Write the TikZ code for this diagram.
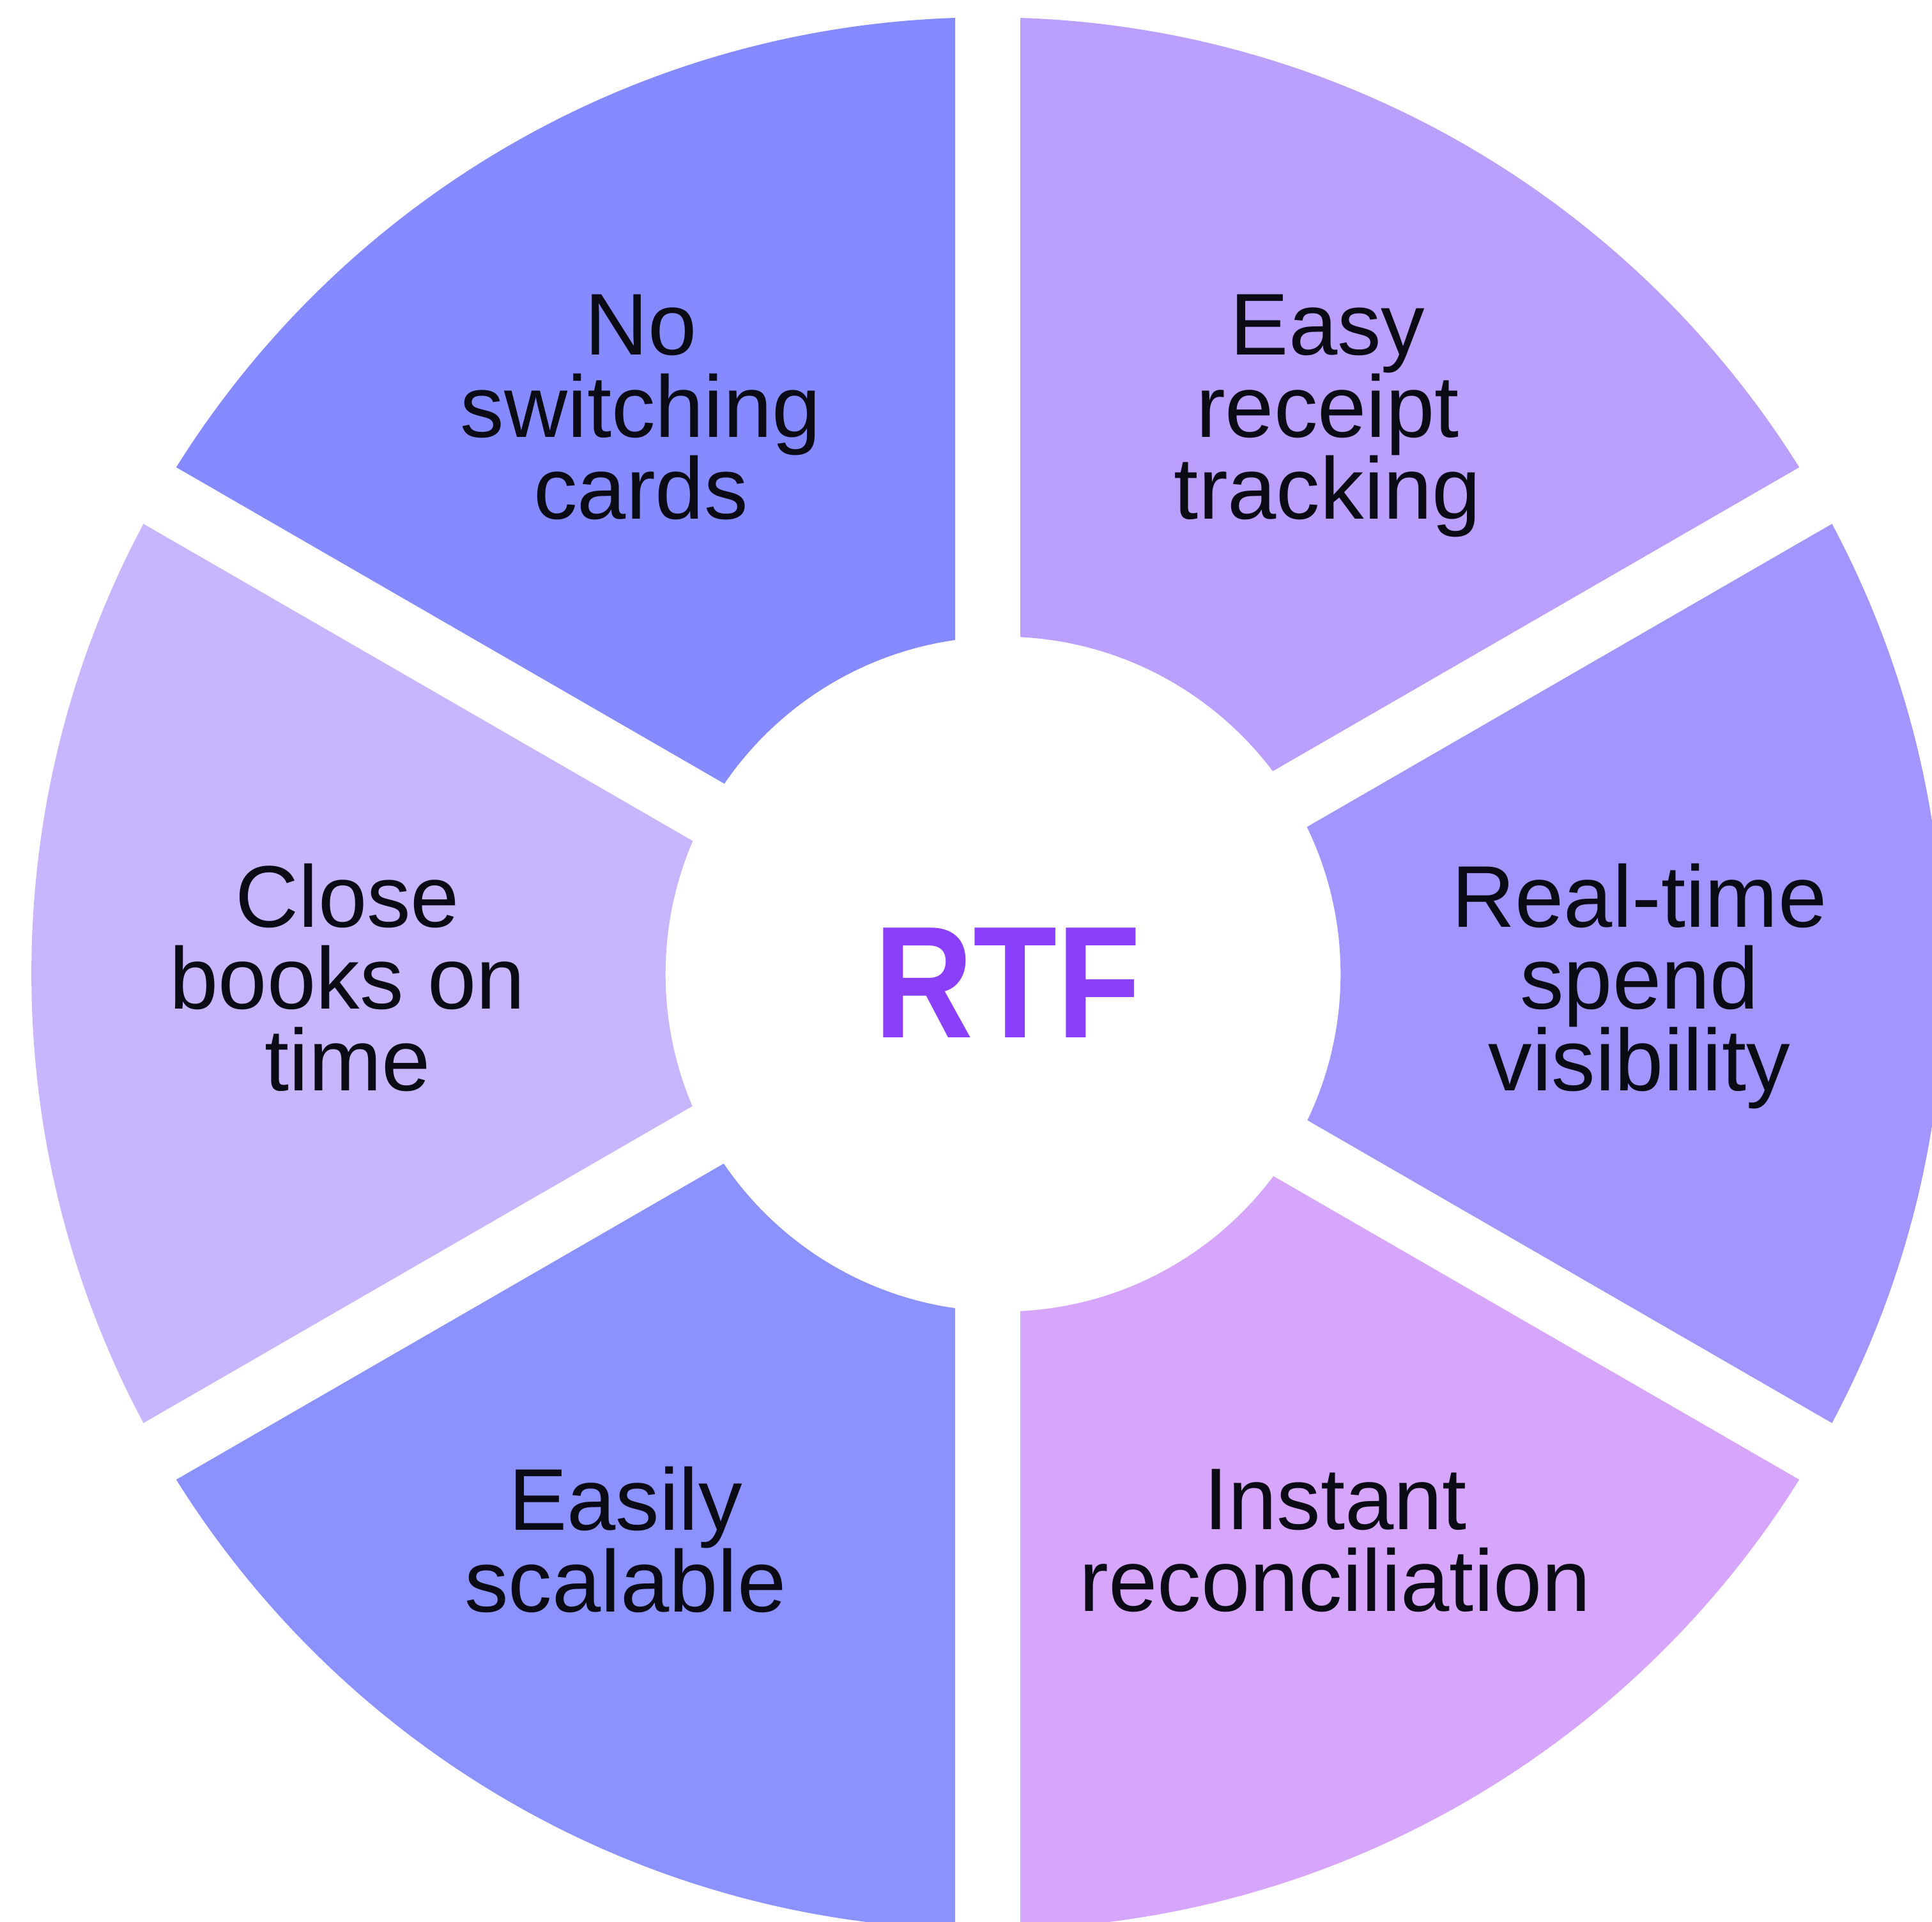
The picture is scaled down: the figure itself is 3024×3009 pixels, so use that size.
\documentclass[tikz,border=0pt]{standalone}
\usepackage{fontspec}
\setmainfont{Liberation Sans}
\usepackage{graphicx}

\definecolor{wedgeNW}{HTML}{858AFF}
\definecolor{wedgeNE}{HTML}{BA9FFD}
\definecolor{wedgeE}{HTML}{A096FD}
\definecolor{wedgeSE}{HTML}{D6A6FC}
\definecolor{wedgeSW}{HTML}{8B92FD}
\definecolor{wedgeW}{HTML}{C7B6FE}
\definecolor{rtfpurple}{HTML}{8A3FFA}
\definecolor{ink}{HTML}{0B0B16}

\begin{document}
\begin{tikzpicture}[x=0.01cm,y=-0.01cm]
\tikzstyle{every node}+=[inner sep=0pt]
\tikzstyle{gap}=[white, line width=1.02cm]
\tikzstyle{label}=[text=ink, align=center, anchor=base, font=\fontsize{39}{36.4}\selectfont]
\useasboundingbox (0,0) rectangle (3024,3009);
\fill [white] (0,0) rectangle (3024,3009);
\clip (0,0) rectangle (3024,3009);
% six ring wedges
\begin{scope}
\clip (1546,1524) -- +(-90:4000) -- +(-30:4000) -- cycle;
\fill [wedgeNE, even odd rule] (1546,1524) circle (14.96cm) (1570,1525) circle (5.28cm);
\end{scope}
\begin{scope}
\clip (1546,1524) -- +(-30:4000) -- +(30:4000) -- cycle;
\fill [wedgeE, even odd rule] (1546,1524) circle (14.96cm) (1570,1525) circle (5.28cm);
\end{scope}
\begin{scope}
\clip (1546,1524) -- +(30:4000) -- +(90:4000) -- cycle;
\fill [wedgeSE, even odd rule] (1546,1524) circle (14.96cm) (1570,1525) circle (5.28cm);
\end{scope}
\begin{scope}
\clip (1546,1524) -- +(90:4000) -- +(150:4000) -- cycle;
\fill [wedgeSW, even odd rule] (1546,1524) circle (14.96cm) (1570,1525) circle (5.28cm);
\end{scope}
\begin{scope}
\clip (1546,1524) -- +(150:4000) -- +(210:4000) -- cycle;
\fill [wedgeW, even odd rule] (1546,1524) circle (14.96cm) (1570,1525) circle (5.28cm);
\end{scope}
\begin{scope}
\clip (1546,1524) -- +(210:4000) -- +(270:4000) -- cycle;
\fill [wedgeNW, even odd rule] (1546,1524) circle (14.96cm) (1570,1525) circle (5.28cm);
\end{scope}
% gaps between wedges
\draw [gap] (1546,1524) +(90:1600) -- +(-90:1600);
\draw [gap] (1546,1524) +(30:1600) -- +(210:1600);
\draw [gap] (1546,1524) +(150:1600) -- +(-30:1600);
% labels (base = last line)
\node [label] (cards) at (1003,812) {No\\switching\\cards};
\node [label] (receipts) at (2078,812) {Easy\\receipt\\tracking};
\node [label] (books) at (544,1707) {Close\\books on\\time};
\node [label] (spend) at (2566,1707) {Real-time\\spend\\visibility};
\node [label] (scalable) at (979,2523) {Easily\\scalable};
\node [label] (recon) at (2090,2522) {Instant\\reconciliation};
\node [anchor=base, text=rtfpurple, font=\fontsize{71}{71}\selectfont\bfseries] (rtf) at (1577,1624) {\scalebox{0.86}[1]{RTF}};
\end{tikzpicture}
\end{document}
